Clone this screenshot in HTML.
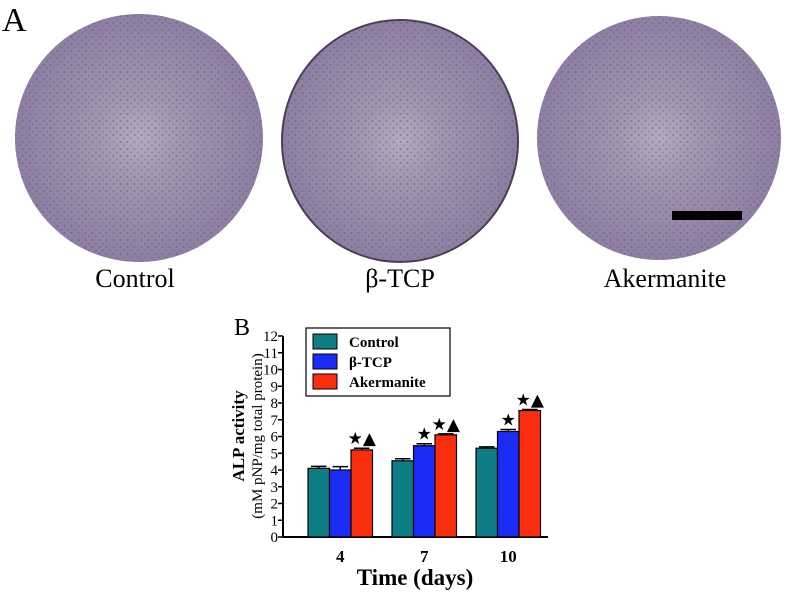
<!DOCTYPE html>
<html><head><meta charset="utf-8"><style>
body{margin:0;background:#fff;width:787px;height:592px;overflow:hidden;font-family:"Liberation Serif",serif}
</style></head><body>
<svg width="787" height="592" xmlns="http://www.w3.org/2000/svg">
<defs>
<radialGradient id="pg" cx="50%" cy="50%" r="50%">
<stop offset="0" stop-color="#b4abbb"/><stop offset="0.35" stop-color="#a295ae"/><stop offset="1" stop-color="#8e7fa2"/>
</radialGradient>
<pattern id="dots" width="7" height="7" patternUnits="userSpaceOnUse">
<circle cx="1.5" cy="2" r="1" fill="#5e4d80" opacity="0.5"/>
<circle cx="5" cy="5.5" r="0.9" fill="#5e4d80" opacity="0.4"/>
</pattern>
</defs>
<text x="2" y="31" font-size="34">A</text>
<g>
<ellipse cx="139" cy="138" rx="124" ry="124" fill="url(#pg)"/>
<ellipse cx="139" cy="138" rx="124" ry="124" fill="url(#dots)"/>
</g>
<g>
<ellipse cx="400" cy="141" rx="118" ry="121" fill="url(#pg)" stroke="#4a3f55" stroke-width="2"/>
<ellipse cx="400" cy="141" rx="117" ry="120" fill="url(#dots)"/>
</g>
<g>
<ellipse cx="659" cy="138" rx="122" ry="122" fill="url(#pg)"/>
<ellipse cx="659" cy="138" rx="122" ry="122" fill="url(#dots)"/>
</g>
<rect x="672" y="211" width="70" height="9" fill="#000"/>
<text x="135" y="287" font-size="26" text-anchor="middle">Control</text>
<text x="400" y="287" font-size="26" text-anchor="middle">β-TCP</text>
<text x="665" y="287" font-size="26" text-anchor="middle">Akermanite</text>
<text x="234" y="335" font-size="24">B</text>
<g id="chart"></g>
</svg>
<script>
const categories=["4","7","10"];
const seriesNames=["Control","β-TCP","Akermanite"];
const controlVals=[4.1,4.55,5.3];
const btcpVals=[4.0,5.45,6.3];
const akerVals=[5.2,6.1,7.55];
const controlErr=[0.12,0.12,0.08];
const btcpErr=[0.2,0.12,0.12];
const akerErr=[0.1,0.06,0.06];
const sigMarks=[["","","★▲"],["","★","★▲"],["","★","★▲"]];
const yTicks=[0,1,2,3,4,5,6,7,8,9,10,11,12];
const colors=["#0f7d86","#1a2cf5","#fb2e10"];
const NS="http://www.w3.org/2000/svg";
const g=document.getElementById('chart');
const x0=283,y0=537,yTop=336,yMax=12;
const ys=v=>y0-(v/yMax)*(y0-yTop);
const groupX=i=>308+i*84;
const barW=21.5;
function mk(t,a){const e=document.createElementNS(NS,t);for(const k in a)e.setAttribute(k,a[k]);g.appendChild(e);return e;}
let ax=mk('line',{x1:x0,y1:yTop,x2:x0,y2:y0,stroke:'#000','stroke-width':2});


let bx=mk('line',{x1:x0,y1:y0,x2:548,y2:y0,stroke:'#000','stroke-width':2});


yTicks.forEach(t=>{
 let l=mk('line',{x1:x0-5,y1:ys(t),x2:x0,y2:ys(t),stroke:'#000','stroke-width':1.5});
 
 
 let tx=mk('text',{x:x0-5,y:ys(t)+5,'font-size':15,'text-anchor':'end'});
 tx.textContent=t;
 
 
});
const vals=[controlVals,btcpVals,akerVals],errs=[controlErr,btcpErr,akerErr];
categories.forEach((c,i)=>{
 for(let s=0;s<3;s++){
  const x=groupX(i)+s*barW,v=vals[s][i],e=errs[s][i];
  let r=mk('rect',{x:x,y:ys(v),width:barW,height:y0-ys(v),fill:colors[s],stroke:'#000','stroke-width':1.2});
  
  
  let el=mk('path',{d:`M${x+barW/2} ${ys(v)}V${ys(v+e)}M${x+3} ${ys(v+e)}H${x+barW-3}`,stroke:'#000','stroke-width':1.5,fill:'none'});
  
  
  const m=sigMarks[i][s];
  if(m){let st=mk('text',{x:x+barW/2,y:ys(v+e)-4,'font-size':17,'text-anchor':'middle','font-family':'DejaVu Sans, sans-serif'});
   st.textContent=m;
   
   }
 }
 let cl=mk('text',{x:groupX(i)+barW*1.5,y:y0+25,'font-size':17,'font-weight':'bold','text-anchor':'middle'});
 cl.textContent=c;
 
 
});
let xt=mk('text',{x:415,y:585,'font-size':23,'font-weight':'bold','text-anchor':'middle'});
xt.textContent='Time (days)';


let yt=mk('text',{x:0,y:0,'font-size':17,'font-weight':'bold','text-anchor':'middle',transform:'translate(244,436) rotate(-90)'});
yt.textContent='ALP activity';


let yt2=mk('text',{x:0,y:0,'font-size':15,'text-anchor':'middle',transform:'translate(262,436) rotate(-90)'});
yt2.textContent='(mM pNP/mg total protein)';


let lg=mk('rect',{x:306,y:328,width:144,height:68,fill:'#fff',stroke:'#000','stroke-width':1.2});


seriesNames.forEach((n,s)=>{
 let sw=mk('rect',{x:313,y:334+s*20,width:24,height:15,fill:colors[s],stroke:'#000','stroke-width':1});
 
 
 let lt=mk('text',{x:349,y:347+s*20,'font-size':15,'font-weight':'bold'});
 lt.textContent=n;
 
 
});
</script>
</body></html>
